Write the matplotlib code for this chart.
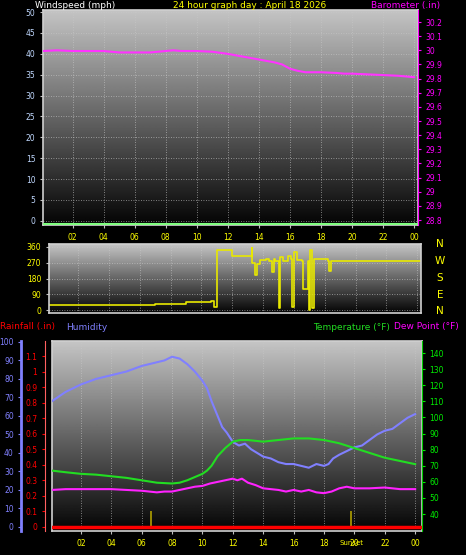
import numpy as np
import matplotlib
matplotlib.use('Agg')
import matplotlib.pyplot as plt

W, H = 466, 555

# ---- data ----
hour_ticks = [2, 4, 6, 8, 10, 12, 14, 16, 18, 20, 22, 24]
hour_labels = ['02', '04', '06', '08', '10', '12', '14', '16', '18', '20', '22', '00']

baro_t = [0.1, 1, 2, 3, 4, 5, 6, 7, 8, 8.5, 9, 10, 11, 12, 13, 14, 15, 15.5, 16, 16.5, 17, 18, 19, 19.5, 20, 21, 22, 23, 24]
baro_v = [29.995, 30.0, 29.995, 29.995, 29.995, 29.985, 29.985, 29.985, 29.995, 30.0, 29.995, 29.995, 29.99, 29.975,
          29.955, 29.935, 29.915, 29.9, 29.87, 29.855, 29.845, 29.845, 29.84, 29.835, 29.835, 29.83, 29.825, 29.82, 29.81]

dir_t = [0.1, 7.0, 7.0, 9.0, 9.0, 10.5, 10.6, 10.8, 11.0, 11.0, 12.0, 12.0, 13.2, 13.25, 13.3, 13.5, 13.6, 13.8, 14.2,
         14.4, 14.6, 14.7, 14.8, 15.0, 15.1, 15.3, 15.6, 15.8, 15.9, 16.0, 16.2, 16.5, 16.6, 16.9, 17.0, 17.05, 17.2, 17.3,
         17.8, 18.2, 18.3, 18.4, 24.3]
dir_v = [30, 30, 35, 35, 45, 45, 50, 20, 30, 340, 340, 310, 310, 355, 270, 200, 260, 285, 290, 280, 215, 290, 280, 10,
         300, 280, 310, 290, 20, 330, 285, 280, 120, 280, 0, 340, 10, 290, 290, 280, 220, 280, 280]

hum_t = [0.1, 1, 2, 3, 4, 5, 6, 7, 7.5, 8, 8.5, 9, 9.5, 10, 10.3, 10.6, 11, 11.3, 11.6, 12, 12.4, 12.8, 13.2, 13.6, 14,
         14.5, 15, 15.5, 16, 16.5, 17, 17.5, 18, 18.3, 18.6, 19, 19.5, 20, 20.5, 21, 21.5, 22, 22.5, 23, 23.5, 24]
hum_v = [68, 73, 77, 80, 82, 84, 87, 89, 90, 92, 91, 88, 84, 79, 75, 68, 60, 54, 51, 46, 44, 45, 42, 40, 38,
         37, 35, 34, 34, 33, 32, 34, 33, 34, 37, 39, 41, 43, 44, 47, 50, 52, 53, 56, 59, 61]

temp_t = [0.1, 1, 2, 3, 4, 5, 6, 7, 8, 8.5, 9, 9.5, 10, 10.3, 10.6, 11, 11.5, 12, 12.5, 13, 14, 15, 16, 17, 18, 18.5,
          19, 20, 21, 22, 23, 24]
temp_v = [67, 66, 65, 64.5, 63.5, 62.5, 61, 59.5, 59, 59.5, 61, 63, 65, 67, 70, 76, 81, 85, 86, 86, 85, 86, 87, 87, 86,
          85, 84, 81, 78, 75, 73, 71]

dew_t = [0.1, 1, 2, 3, 4, 5, 6, 6.5, 7, 7.5, 8, 8.5, 9, 9.5, 10, 10.5, 11, 11.5, 12, 12.3, 12.6, 13, 13.5, 14, 14.5,
         15, 15.5, 16, 16.5, 17, 17.5, 18, 18.5, 19, 19.5, 20, 21, 22, 23, 24]
dew_v = [55, 55.5, 55.5, 55.5, 55.5, 55, 54.5, 54, 53.5, 54, 54, 55, 56, 57, 57.5, 59, 60, 61, 62, 61, 62, 59.5, 58, 56,
         55.5, 55, 54, 55, 54, 55, 53.5, 53, 54, 56, 57, 56, 56, 56.5, 55.5, 55.5]

rain_t = [0.1, 24.4]
rain_v = [0.0, 0.0]
sun_marks = [6.6, 19.8]

BG = 'black'
fig = plt.figure(figsize=(W / 100, H / 100), dpi=100, facecolor=BG)


def rect(x0, y0, x1, y1):
    return [x0 / W, 1 - y1 / H, (x1 - x0) / W, (y1 - y0) / H]


def gradient(ax):
    g = np.linspace(0, 1, 256).reshape(-1, 1)
    ax.imshow(g, aspect='auto', cmap='gray', vmin=-0.02, vmax=1.3, extent=[0, 1, 0, 1],
              transform=ax.transAxes, zorder=0, origin='lower')


def style(ax, xl, yl):
    ax.set_facecolor(BG)
    gradient(ax)
    ax.set_xlim(*xl)
    ax.set_ylim(*yl)
    for s in ax.spines.values():
        s.set_color('#d0d0d0')
        s.set_linewidth(1.2)
    ax.grid(True, color='#c8c8c8', linestyle=(0, (1, 2)), linewidth=0.6, alpha=0.8)
    ax.set_xticks(hour_ticks)
    ax.tick_params(colors='#c0c0c0', labelsize=5.5, length=2)


tfs = 6.5
tick_fs = 5.5

# ---- top panel: windspeed / barometer ----
ax1 = fig.add_axes(rect(43, 10, 418, 225))
style(ax1, (0.1, 24.25), (-1, 50.5))
ax1.set_yticks(range(0, 51, 5))
ax1.tick_params(axis='y', labelcolor='#c0d8ff')
ax1.set_xticklabels(hour_labels, color='yellow', fontsize=tick_fs)
ax1.tick_params(axis='x', labelcolor='yellow')
ax1.axhline(-0.7, color='#80ff80', lw=1.5, zorder=3)
ax1b = ax1.twinx()
ax1b.set_ylim(28.765, 30.285)
ax1b.set_yticks(np.round(np.arange(28.8, 30.21, 0.1), 1))
ax1b.set_yticklabels(['28.8', '28.9', '29', '29.1', '29.2', '29.3', '29.4', '29.5', '29.6', '29.7', '29.8',
                      '29.9', '30', '30.1', '30.2'])
ax1b.tick_params(colors='magenta', labelsize=tick_fs, length=2)
for s in ax1b.spines.values():
    s.set_visible(False)
ax1b.spines['right'].set_visible(True)
ax1b.spines['right'].set_color('magenta')
ax1b.plot(baro_t, baro_v, color='#ff33ff', lw=1.5)

fig.text(35 / W, 1 - 1 / H, 'Windspeed (mph)', color='white', fontsize=tfs, va='top')
fig.text(250 / W, 1 - 1 / H, '24 hour graph day : April 18 2026', color='yellow', fontsize=tfs, va='top', ha='center')
fig.text(440 / W, 1 - 1 / H, 'Barometer (.in)', color='magenta', fontsize=tfs, va='top', ha='right')

# ---- middle panel: wind direction ----
ax2 = fig.add_axes(rect(49, 244, 421, 313))
style(ax2, (0.1, 24.25), (-17, 377))
ax2.set_yticks([0, 90, 180, 270, 360])
ax2.tick_params(axis='y', labelcolor='yellow')
ax2.set_xticklabels([])
ax2.tick_params(axis='x', length=0)
ax2.plot(dir_t, dir_v, color='#e8e800', lw=1.2, drawstyle='steps-post')
for lab, yy in zip(['N', 'W', 'S', 'E', 'N'], [244, 261, 278, 295, 311]):
    fig.text(440 / W, 1 - yy / H, lab, color='yellow', fontsize=7.5, ha='center', va='center')

# ---- bottom panel: humidity / rain / temp / dew ----
ax3 = fig.add_axes(rect(52, 341, 422, 531))
style(ax3, (0.1, 24.45), (-2.2, 100.5))
ax3.set_yticks([])
ax3.set_xticklabels(hour_labels, color='yellow', fontsize=tick_fs)
ax3.tick_params(axis='x', labelcolor='yellow')
ax3.plot(hum_t, hum_v, color='#8080ff', lw=1.5, zorder=4)

axh = ax3.twinx()
axh.set_ylim(-2.2, 100.5)
axh.yaxis.set_ticks_position('left')
axh.spines['left'].set_position(('outward', 22))
axh.set_yticks(range(0, 101, 10))
axh.tick_params(colors='#8080ff', labelsize=tick_fs, length=2)
for s in axh.spines.values():
    s.set_visible(False)
axh.spines['left'].set_visible(True)
axh.spines['left'].set_color('#8080ff')
axh.spines['left'].set_linewidth(2)

axr = ax3.twinx()
axr.set_ylim(-0.026, 1.197)
axr.yaxis.set_ticks_position('left')
axr.spines['left'].set_position(('outward', 5))
axr.set_yticks(np.round(np.arange(0, 1.11, 0.1), 1))
axr.set_yticklabels(['0', '0.1', '0.2', '0.3', '0.4', '0.5', '0.6', '0.7', '0.8', '0.9', '1', '1.1'])
axr.tick_params(colors='red', labelsize=tick_fs, length=2)
for s in axr.spines.values():
    s.set_visible(False)
axr.spines['left'].set_visible(True)
axr.spines['left'].set_color('#ff6060')
axr.spines['left'].set_linestyle((0, (1, 1)))
axr.plot(rain_t, rain_v, color='red', lw=2.5, zorder=5)
axr.vlines(sun_marks, 0, 0.1, color='#b0a000', lw=1.2, zorder=4)

axt = ax3.twinx()
axt.set_ylim(29.5, 147.5)
axt.set_yticks(range(40, 141, 10))
axt.tick_params(colors='#00ee00', labelsize=tick_fs, length=2)
for s in axt.spines.values():
    s.set_visible(False)
axt.spines['right'].set_visible(True)
axt.spines['right'].set_color('#00cc00')
axt.plot(temp_t, temp_v, color='#22dd22', lw=1.5, zorder=4)
axt.plot(dew_t, dew_v, color='#ff22ff', lw=1.5, zorder=4)
fig.text(351 / W, 1 - 543 / H, 'Sunset', color='yellow', fontsize=5, ha='center', va='center')

fig.text(0 / W, 1 - 327 / H, 'Rainfall (.in)', color='red', fontsize=tfs, va='center')
fig.text(66 / W, 1 - 327 / H, 'Humidity', color='#8080ff', fontsize=tfs, va='center')
fig.text(313 / W, 1 - 327 / H, 'Temperature (\u00b0F)', color='#22dd22', fontsize=tfs, va='center')
fig.text(394 / W, 1 - 327 / H, 'Dew Point (\u00b0F)', color='magenta', fontsize=tfs, va='center')

fig.savefig('out.png', dpi=100, facecolor=BG)
